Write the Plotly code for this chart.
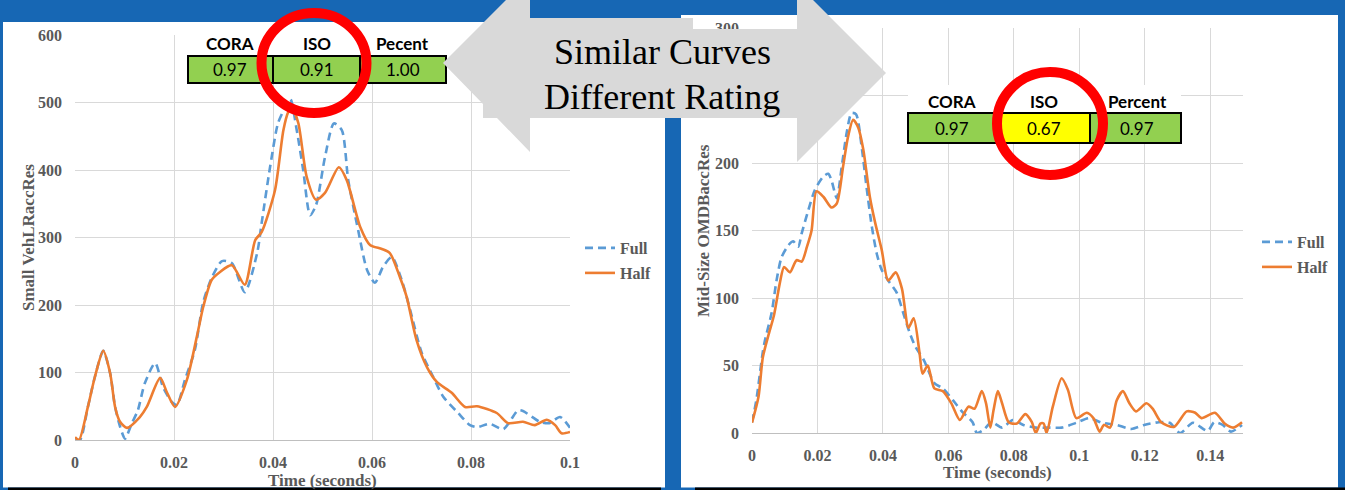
import plotly.graph_objects as go

W, H = 1345, 490

# ---- Small vehicle: VehLRaccRes (Full vs Half) ----
small_full_t = [0, 0.001, 0.0026, 0.004, 0.0057, 0.0071, 0.0081, 0.0091, 0.0101, 0.0115,
                0.0127, 0.0141, 0.0162, 0.0178, 0.0196, 0.0206, 0.0222, 0.0242, 0.0259, 0.0276,
                0.0297, 0.0317, 0.0343, 0.0368, 0.0377, 0.0394, 0.041, 0.0424, 0.0435, 0.0448,
                0.0461, 0.0475, 0.0487, 0.0505, 0.0523, 0.0539, 0.0552, 0.0572, 0.059, 0.0606,
                0.0622, 0.064, 0.066, 0.0677, 0.07, 0.0724, 0.0744, 0.0774, 0.0798, 0.0812,
                0.0838, 0.0865, 0.0895, 0.0905, 0.0939, 0.0958, 0.098, 0.1]
small_full = [3, 0, 49, 93, 132, 99, 49, 20, 2, 25,
              44, 84, 114, 78, 56, 52, 89, 133, 204, 240,
              265, 262, 219, 277, 321, 404, 469, 492, 505, 459,
              400, 333, 348, 419, 469, 459, 385, 311, 252, 233,
              256, 271, 237, 193, 130, 93, 64, 40, 22, 19,
              24, 16, 44, 43, 27, 25, 34, 18]

small_half_t = [0, 0.0008, 0.0026, 0.004, 0.0057, 0.0071, 0.0081, 0.0091, 0.0105, 0.0131,
                0.0145, 0.0172, 0.0186, 0.0202, 0.0226, 0.0249, 0.0259, 0.0276, 0.0293, 0.0317,
                0.0343, 0.0364, 0.0377, 0.0404, 0.0421, 0.0431, 0.0438, 0.0451, 0.0468, 0.0487,
                0.0505, 0.0533, 0.0549, 0.0576, 0.0596, 0.062, 0.0636, 0.0657, 0.067, 0.069,
                0.0711, 0.0731, 0.0761, 0.0788, 0.0812, 0.0852, 0.0875, 0.0905, 0.0929, 0.0953,
                0.097, 0.0983, 0.1]
small_half = [4, 0, 49, 93, 132, 99, 49, 27, 18, 34,
              49, 92, 70, 49, 89, 163, 197, 237, 249, 259,
              230, 296, 308, 370, 459, 486, 492, 470, 390, 356,
              366, 404, 385, 316, 289, 283, 277, 240, 212, 148,
              108, 86, 70, 49, 50, 40, 25, 27, 22, 30,
              22, 10, 12]

# ---- Mid-size vehicle: OMDBaccRes (Full vs Half) ----
mid_full_t = [0, 0.0013, 0.0033, 0.004, 0.006, 0.0075, 0.009, 0.0111, 0.0126, 0.0141,
              0.0152, 0.0172, 0.0192, 0.0218, 0.0233, 0.0243, 0.0259, 0.0274, 0.0289, 0.0304,
              0.0318, 0.0335, 0.035, 0.0366, 0.0381, 0.0396, 0.0416, 0.0442, 0.0462, 0.0482,
              0.0499, 0.0525, 0.0557, 0.0583, 0.0615, 0.0641, 0.0674, 0.0687, 0.0706, 0.0732,
              0.0764, 0.0797, 0.0829, 0.0868, 0.0907, 0.0946, 0.0991, 0.103, 0.1069, 0.1114,
              0.1159, 0.1198, 0.1243, 0.1276, 0.1308, 0.1347, 0.1392, 0.1412, 0.1438, 0.1463,
              0.1497]
mid_full = [8, 24, 60, 69, 89, 113, 130, 139, 142, 138,
            148, 165, 180, 190, 192, 187, 174, 197, 222, 237,
            236, 212, 182, 153, 133, 121, 113, 104, 89, 74,
            64, 54, 37, 33, 24, 16, 8, 0, 2, 8,
            4, 9.6, 6, 4, 4, 4, 7.6, 11, 7.6, 6,
            3, 6, 8, 7.6, 0, 7.6, 1.5, 8, 6, 1,
            6]

mid_half_t = [0, 0.002, 0.0033, 0.0052, 0.0067, 0.0085, 0.0098, 0.0116, 0.0136, 0.0152,
              0.0168, 0.0182, 0.0197, 0.0218, 0.0243, 0.0259, 0.0278, 0.0293, 0.0309, 0.0325,
              0.034, 0.036, 0.0376, 0.0396, 0.0416, 0.0439, 0.0458, 0.0478, 0.0494, 0.0512,
              0.0521, 0.0537, 0.0557, 0.0583, 0.0609, 0.0635, 0.0661, 0.068, 0.0702, 0.0715,
              0.0728, 0.0738, 0.0751, 0.0764, 0.0784, 0.0809, 0.0835, 0.0855, 0.0867, 0.0881,
              0.0891, 0.09, 0.0919, 0.0946, 0.0965, 0.0991, 0.1023, 0.1043, 0.1062, 0.1075,
              0.1094, 0.1114, 0.1133, 0.1153, 0.1173, 0.1205, 0.1224, 0.125, 0.1289, 0.1328,
              0.1354, 0.1373, 0.1414, 0.1444, 0.147, 0.1497]
mid_half = [7.6, 27, 56, 74, 87, 111, 123, 119, 128, 127,
            138, 150, 179, 175, 167, 170, 197, 219, 232, 226,
            210, 175, 156, 136, 113, 119, 107, 78, 85, 59,
            44, 50, 33, 31, 22, 9.6, 19.5, 18, 31, 22,
            4, 17, 31, 22, 8, 7, 14, 8, 0, 7,
            7, 0, 19.5, 40.5, 32, 11, 15, 11, 1, 6,
            4, 24, 31, 22, 16, 22, 18, 8, 4.5, 16,
            15, 11, 15, 7, 4, 8]

# axis ticks
small_x_ticks = [0, 0.02, 0.04, 0.06, 0.08, 0.1]
small_x_labels = ["0", "0.02", "0.04", "0.06", "0.08", "0.1"]
small_y_ticks = [0, 100, 200, 300, 400, 500, 600]
mid_x_ticks = [0, 0.02, 0.04, 0.06, 0.08, 0.1, 0.12, 0.14]
mid_x_labels = ["0", "0.02", "0.04", "0.06", "0.08", "0.1", "0.12", "0.14"]
mid_y_ticks = [0, 50, 100, 150, 200, 250, 300]

# rating tables
rating_headers_small = ["CORA", "ISO", "Pecent"]
rating_values_small = ["0.97", "0.91", "1.00"]
rating_headers_mid = ["CORA", "ISO", "Percent"]
rating_values_mid = ["0.97", "0.67", "0.97"]

BLUE_BG = "#1767b4"
FULL_C = "#5b9bd5"
HALF_C = "#ed7d31"
GRID_C = "#d9d9d9"
TXT_C = "#595959"
GREEN = "#92d050"
YELLOW = "#ffff00"
SERIF = "Liberation Serif"
SANS = "Lato"


def fx(p):
    return p / W


def fy(p):
    return 1 - p / H


fig = go.Figure()

line_full = dict(color=FULL_C, width=2.6, dash="8px,5px", shape="spline", smoothing=0.7)
line_half = dict(color=HALF_C, width=2.6, shape="spline", smoothing=0.7)

fig.add_trace(go.Scatter(x=small_full_t, y=small_full, mode="lines", name="Full",
                         line=line_full, xaxis="x", yaxis="y", legend="legend"))
fig.add_trace(go.Scatter(x=small_half_t, y=small_half, mode="lines", name="Half",
                         line=line_half, xaxis="x", yaxis="y", legend="legend2"))
fig.add_trace(go.Scatter(x=mid_full_t, y=mid_full, mode="lines", name="Full",
                         line=line_full, xaxis="x2", yaxis="y2", legend="legend3"))
fig.add_trace(go.Scatter(x=mid_half_t, y=mid_half, mode="lines", name="Half",
                         line=line_half, xaxis="x2", yaxis="y2", legend="legend4"))

tick_font = dict(family=SERIF, size=16, color=TXT_C, weight="bold")
common_x = dict(showgrid=True, gridcolor=GRID_C, gridwidth=1, zeroline=False,
                showline=True, linecolor="#bfbfbf", linewidth=1, tickfont=tick_font,
                tickmode="array", ticks="", ticklabelstandoff=8, fixedrange=True,
                automargin=False)
common_y = dict(showgrid=True, gridcolor=GRID_C, gridwidth=1, zeroline=False,
                showline=False, tickfont=tick_font, tickmode="array", ticks="",
                ticklabelstandoff=12, fixedrange=True, automargin=False)

fig.update_layout(
    xaxis=dict(common_x, domain=[fx(75), fx(570)], range=[0, 0.1], anchor="y",
               tickvals=small_x_ticks, ticktext=small_x_labels),
    yaxis=dict(common_y, domain=[fy(440), fy(35)], range=[0, 600], anchor="x",
               tickvals=small_y_ticks),
    xaxis2=dict(common_x, domain=[fx(752), fx(1243)], range=[0, 0.15], anchor="y2",
                tickvals=mid_x_ticks, ticktext=mid_x_labels),
    yaxis2=dict(common_y, domain=[fy(433), fy(28)], range=[0, 300], anchor="x2",
                tickvals=mid_y_ticks),
)

leg_font = dict(family=SERIF, size=16, color=TXT_C, weight="bold")
leg_common = dict(font=leg_font, bgcolor="rgba(0,0,0,0)", borderwidth=0,
                  xanchor="left", yanchor="middle", itemclick=False, itemdoubleclick=False)
fig.update_layout(
    legend=dict(leg_common, x=fx(580), y=fy(248)),
    legend2=dict(leg_common, x=fx(580), y=fy(273)),
    legend3=dict(leg_common, x=fx(1257), y=fy(242)),
    legend4=dict(leg_common, x=fx(1257), y=fy(267)),
)

shapes = []


def rect(x0, y0, x1, y1, fill, line_color=None, lw=0, layer="above"):
    shapes.append(dict(type="rect", xref="paper", yref="paper",
                       x0=fx(x0), x1=fx(x1), y0=fy(y1), y1=fy(y0),
                       fillcolor=fill, layer=layer,
                       line=dict(color=line_color or fill, width=lw)))


# slide panels
rect(3, 22, 665, 487.5, "white", layer="below")
rect(681, 15, 1338, 487.5, "white", layer="below")
rect(8, 487.5, 661, 491, "black", layer="below")
rect(695, 487.5, 1345, 491, "black", layer="below")


def table(x_edges, y_head, y_cells, fills):
    rect(x_edges[0], y_head[0], x_edges[-1], y_head[1], "white")
    for i in range(3):
        rect(x_edges[i], y_cells[0], x_edges[i + 1], y_cells[1], fills[i], "black", 2)


table([188, 273, 360, 446], (28, 56), (56, 83), [GREEN, GREEN, GREEN])
table([908, 996, 1090, 1181], (85, 113), (113, 143), [GREEN, YELLOW, GREEN])

# double-headed arrow
arrow_pts = [(443, 63), (530, -24), (530, 18), (693, 18), (693, 29), (797, 29),
             (797, -16), (886, 73), (797, 162), (797, 118), (530, 118), (530, 152),
             (497, 118), (483, 118), (483, 104)]
path = "M " + " L ".join(f"{fx(x):.5f},{fy(y):.5f}" for x, y in arrow_pts) + " Z"
shapes.append(dict(type="path", xref="paper", yref="paper", path=path,
                   fillcolor="#d9d9d9", line=dict(width=0), layer="above"))

# red highlight rings
for cx, cy, rx, ry in [(314, 63, 52.5, 50), (1050, 123.5, 53, 51.5)]:
    shapes.append(dict(type="circle", xref="paper", yref="paper",
                       x0=fx(cx - rx), x1=fx(cx + rx), y0=fy(cy + ry), y1=fy(cy - ry),
                       line=dict(color="#ff0000", width=10), fillcolor="rgba(0,0,0,0)",
                       layer="above"))

annotations = []


def text(x, y, s, font, angle=0):
    annotations.append(dict(x=fx(x), y=fy(y), xref="paper", yref="paper", text=s,
                            showarrow=False, font=font, textangle=angle,
                            xanchor="center", yanchor="middle"))


head_font = dict(family=SANS, size=17, color="black", weight="bold")
val_font = dict(family=SANS, size=17, color="black")
for xc, h, v in zip([230, 317, 403], rating_headers_small, rating_values_small):
    text(xc, 44, h, head_font)
    text(xc, 70, v, val_font)
for xc, h, v in zip([952, 1044, 1137], rating_headers_mid, rating_values_mid):
    text(xc, 101, h, head_font)
    text(xc, 128, v, val_font)

title_font = dict(family=SERIF, size=17, color=TXT_C, weight="bold")
text(28, 238, "Small VehLRaccRes", title_font, -90)
text(703, 231, "Mid-Size OMDBaccRes", title_font, -90)
text(322, 480, "Time (seconds)", title_font)
text(997, 472, "Time (seconds)", title_font)

big_font = dict(family=SERIF, size=36, color="black")
text(662, 52, "Similar Curves", big_font)
text(662, 97, "Different Rating", big_font)

fig.update_layout(
    width=W, height=H, autosize=False,
    margin=dict(l=0, r=0, t=0, b=0, pad=0, autoexpand=False),
    paper_bgcolor=BLUE_BG, plot_bgcolor="rgba(0,0,0,0)",
    shapes=shapes, annotations=annotations, showlegend=True,
)

fig.write_html("out.html", config={"displayModeBar": False})
